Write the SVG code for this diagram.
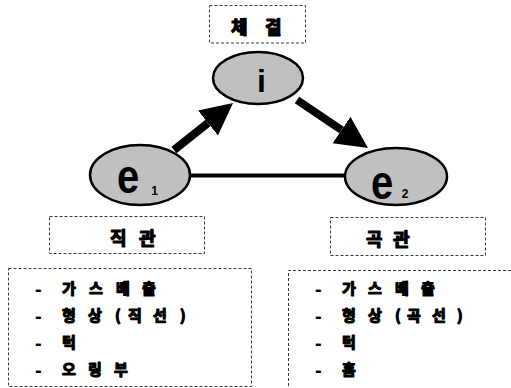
<svg xmlns="http://www.w3.org/2000/svg" width="511" height="388" viewBox="0 0 511 388">
  <style>
    .box { fill: none; stroke: #3a3a3a; stroke-width: 1; stroke-dasharray: 3 2; }
    .node { fill: #c0c0c0; stroke: #000; stroke-width: 2.5; }
    .ko { font-family: "Noto Sans CJK KR", "Noto Sans", sans-serif; font-weight: bold; fill: #000; stroke: #000; stroke-width: 1.2; stroke-linejoin: round; }
    .title { font-size: 18px; }
    .item { font-size: 15px; }
    .dash { font-family: "Liberation Sans", Arial, sans-serif; font-weight: bold; font-size: 20px; fill: #000; }
    .sym { font-family: "Liberation Sans", Arial, sans-serif; font-weight: bold; fill: #000; text-anchor: middle; }
    .edge { stroke: #000; fill: none; }
  </style>
  <defs>
    <marker id="head" viewBox="0 0 10 10" refX="0" refY="5" markerWidth="4" markerHeight="5" orient="auto" markerUnits="strokeWidth">
      <path d="M0,0 L10,5 L0,10 z" fill="#000"/>
    </marker>
  </defs>

  <!-- connectors -->
  <g id="connectors">
    <line class="edge" x1="190" y1="175.5" x2="346" y2="175.5" stroke-width="4"/>
    <line class="edge" x1="174" y1="150" x2="208" y2="123" stroke-width="8" marker-end="url(#head)"/>
    <line class="edge" x1="297" y1="100" x2="341.5" y2="130" stroke-width="8" marker-end="url(#head)"/>
  </g>

  <!-- binding label -->
  <g id="label-bond">
    <rect class="box" x="209.5" y="5.5" width="96" height="37.5"/>
    <text class="ko title" x="231 248 265" y="34">체 결</text>
  </g>

  <!-- nodes -->
  <g id="node-i">
    <ellipse class="node" cx="258" cy="78" rx="45" ry="26"/>
    <text class="sym" x="261.5" y="92" font-size="32">i</text>
  </g>
  <g id="node-e1">
    <ellipse class="node" cx="140" cy="175" rx="50" ry="30"/>
    <text class="sym" transform="translate(128,193) scale(1,1.2)" font-size="40">e</text>
    <text class="sym" x="154.5" y="195" font-size="12">1</text>
  </g>
  <g id="node-e2">
    <ellipse class="node" cx="396" cy="176.5" rx="51" ry="28.5"/>
    <text class="sym" transform="translate(382,199) scale(1,1.2)" font-size="40">e</text>
    <text class="sym" x="405" y="198" font-size="12">2</text>
  </g>

  <!-- straight pipe -->
  <g id="straight-title">
    <rect class="box" x="49.5" y="216.5" width="155" height="37"/>
    <text class="ko title" x="110 127 139" y="245">직 관</text>
  </g>
  <g id="straight-list">
    <rect class="box" x="8.5" y="268.5" width="243" height="118"/>
    <text class="dash" x="35" y="296">-</text>
    <text class="ko item" x="62 77 89 104 116 131 142" y="294">가 스 배 출</text>
    <text class="dash" x="35" y="323">-</text>
    <text class="ko item" x="62 77 88 103 115 120 128 143 153 168 180" y="321">형 상 ( 직 선 )</text>
    <text class="dash" x="35" y="350">-</text>
    <text class="ko item" x="62" y="348">턱</text>
    <text class="dash" x="35" y="377">-</text>
    <text class="ko item" x="62 77 88 103 114" y="375">오 링 부</text>
  </g>

  <!-- bent pipe -->
  <g id="bent-title">
    <rect class="box" x="330.5" y="217.5" width="155" height="38"/>
    <text class="ko title" x="366 383 393" y="246">곡 관</text>
  </g>
  <g id="bent-list">
    <path class="box" d="M511,270.5 H288.5 V388"/>
    <text class="dash" x="315" y="296">-</text>
    <text class="ko item" x="342 357 368 383 395 410 421" y="294">가 스 배 출</text>
    <text class="dash" x="315" y="323">-</text>
    <text class="ko item" x="342 357 368 383 395 400 407 422 432 447 457" y="321">형 상 ( 곡 선 )</text>
    <text class="dash" x="315" y="350">-</text>
    <text class="ko item" x="342" y="348">턱</text>
    <text class="dash" x="315" y="377">-</text>
    <text class="ko item" x="342" y="375">홈</text>
  </g>
</svg>
